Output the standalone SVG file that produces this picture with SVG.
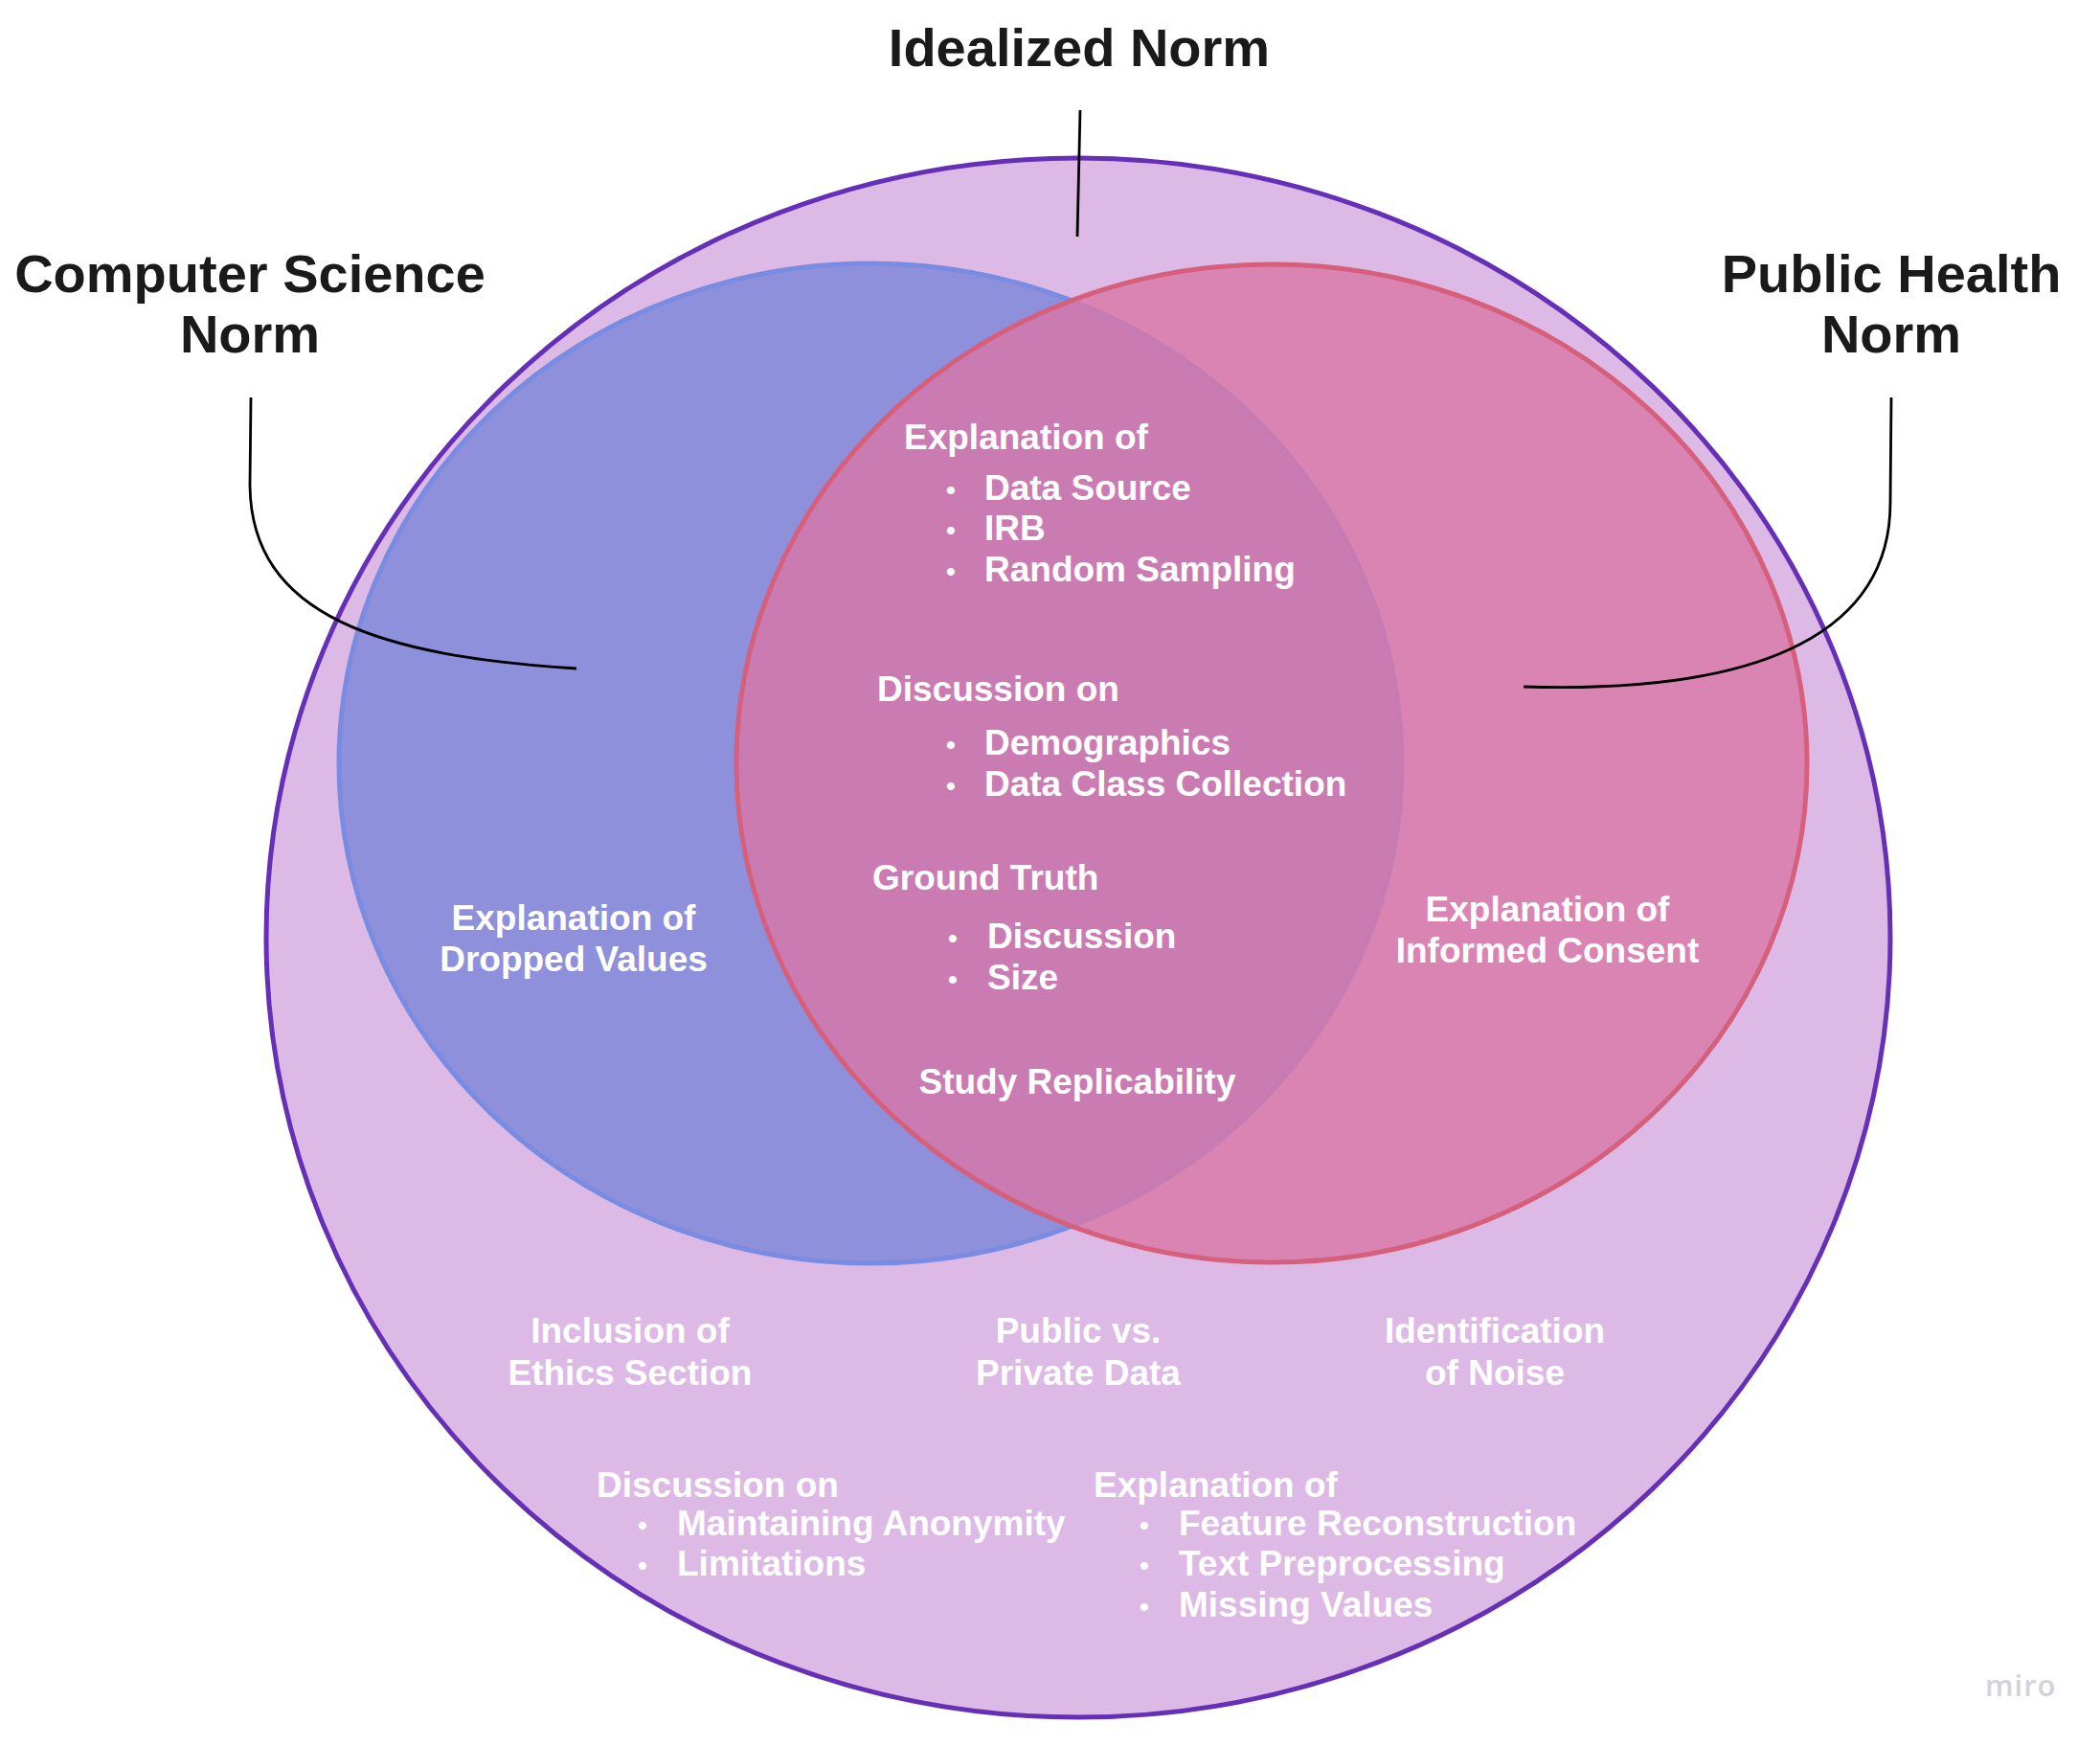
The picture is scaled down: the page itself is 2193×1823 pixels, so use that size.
<svg xmlns="http://www.w3.org/2000/svg" width="2193" height="1823" viewBox="0 0 2193 1823">
<style>
.title{font-family:"Liberation Sans",Arial,sans-serif;font-weight:bold;font-size:56px;fill:#1a1a1a;text-anchor:middle}
.lbl{font-family:"Liberation Sans",Arial,sans-serif;font-weight:bold;font-size:37px;fill:#ffffff}
.mid{text-anchor:middle}
.bul{font-family:"Liberation Sans",Arial,sans-serif;font-weight:bold;font-size:28px;fill:#ffffff;text-anchor:middle}
.conn{fill:none;stroke:#000000;stroke-width:2.8;stroke-linecap:butt}
</style>
<rect width="2193" height="1823" fill="#ffffff"/>
<g id="idealized-norm">
<ellipse cx="1126" cy="979" rx="848" ry="814" fill="#DDB9E5" stroke="#6630B6" stroke-width="5"/>
</g>
<g id="cs-norm">
<ellipse cx="909" cy="797" rx="555" ry="522" fill="#8E90DC" stroke="#7A8CE2" stroke-width="5"/>
</g>
<g id="ph-norm">
<ellipse cx="1328" cy="797" rx="559" ry="521" fill="#D977A8" fill-opacity="0.8" stroke="#D6607C" stroke-width="5"/>
</g>
<g id="connectors">
<path class="conn" d="M1128 115 L1125 247"/>
<path class="conn" d="M262 415 L261 505 C261 645 400 685 602 698"/>
<path class="conn" d="M1975 415 L1974 525 C1974 655 1850 725 1591 717"/>
</g>
<g id="titles">
<text class="title" x="1127" y="69">Idealized Norm</text>
<text class="title" x="261" y="305">Computer Science</text>
<text class="title" x="261" y="368">Norm</text>
<text class="title" x="1975" y="305">Public Health</text>
<text class="title" x="1975" y="368">Norm</text>
</g>
<g id="center-labels">
<text class="lbl" x="944" y="469">Explanation of</text>
<text class="bul" x="993" y="521">•</text>
<text class="lbl" x="1028" y="522">Data Source</text>
<text class="bul" x="993" y="563">•</text>
<text class="lbl" x="1028" y="564">IRB</text>
<text class="bul" x="993" y="606">•</text>
<text class="lbl" x="1028" y="607">Random Sampling</text>
<text class="lbl" x="916" y="732">Discussion on</text>
<text class="bul" x="993" y="787">•</text>
<text class="lbl" x="1028" y="788">Demographics</text>
<text class="bul" x="993" y="830">•</text>
<text class="lbl" x="1028" y="831">Data Class Collection</text>
<text class="lbl" x="911" y="929">Ground Truth</text>
<text class="bul" x="995" y="989">•</text>
<text class="lbl" x="1031" y="990">Discussion</text>
<text class="bul" x="995" y="1032">•</text>
<text class="lbl" x="1031" y="1033">Size</text>
<text class="lbl mid" x="1125" y="1142">Study Replicability</text>
</g>
<g id="cs-labels">
<text class="lbl mid" x="599" y="971">Explanation of</text>
<text class="lbl mid" x="599" y="1014">Dropped Values</text>
</g>
<g id="ph-labels">
<text class="lbl mid" x="1616" y="962">Explanation of</text>
<text class="lbl mid" x="1616" y="1005">Informed Consent</text>
</g>
<g id="idealized-labels">
<text class="lbl mid" x="658" y="1402">Inclusion of</text>
<text class="lbl mid" x="658" y="1446">Ethics Section</text>
<text class="lbl mid" x="1126" y="1402">Public vs.</text>
<text class="lbl mid" x="1126" y="1446">Private Data</text>
<text class="lbl mid" x="1561" y="1402">Identification</text>
<text class="lbl mid" x="1561" y="1446">of Noise</text>
<text class="lbl" x="623" y="1563">Discussion on</text>
<text class="bul" x="671" y="1602">•</text>
<text class="lbl" x="707" y="1603">Maintaining Anonymity</text>
<text class="bul" x="671" y="1644">•</text>
<text class="lbl" x="707" y="1645">Limitations</text>
<text class="lbl" x="1142" y="1563">Explanation of</text>
<text class="bul" x="1195" y="1602">•</text>
<text class="lbl" x="1231" y="1603">Feature Reconstruction</text>
<text class="bul" x="1195" y="1644">•</text>
<text class="lbl" x="1231" y="1645">Text Preprocessing</text>
<text class="bul" x="1195" y="1687">•</text>
<text class="lbl" x="1231" y="1688">Missing Values</text>
</g>
<text x="2073" y="1771" font-family="'Open Sans',sans-serif" font-weight="600" font-size="31" letter-spacing="1" fill="#D2D2DC">miro</text>
</svg>
